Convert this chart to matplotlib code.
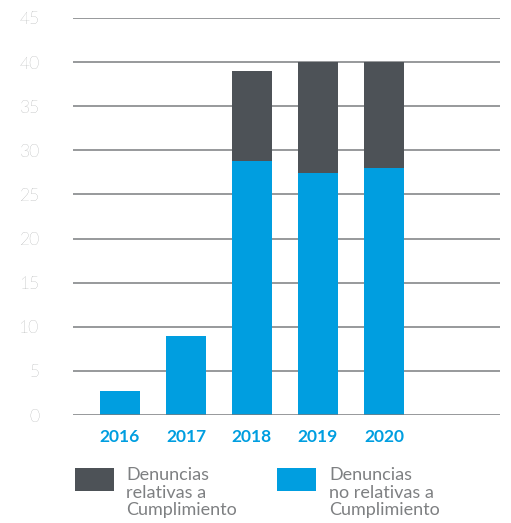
import matplotlib
matplotlib.use("Agg")
import matplotlib.pyplot as plt
from matplotlib.patches import Rectangle
import numpy as np

years = ["2016", "2017", "2018", "2019", "2020"]
no_relativas = [2.75, 9.0, 28.8, 27.4, 28.0]
relativas = [0.0, 0.0, 10.2, 12.6, 12.0]
yticks = [0, 5, 10, 15, 20, 25, 30, 35, 40, 45]
legend_labels = ["Denuncias\nrelativas a\nCumplimiento", "Denuncias\nno relativas a\nCumplimiento"]

blue = "#009EE0"
dark = "#4D5257"
grid_c = "#7A7D80"
tick_c = "#7E8082"

plt.rcParams['font.family'] = ['Lato', 'DejaVu Sans']

fig = plt.figure(figsize=(5.11, 5.23), dpi=100)
ax = fig.add_axes([73/511, 1-415/523, 427/511, 397/523])

x = np.arange(len(years))
w = 0.606
ax.bar(x, no_relativas, width=w, color=blue, zorder=2)
ax.bar(x, relativas, width=w, bottom=no_relativas, color=dark, zorder=2)

for t in yticks:
    ax.axhline(t, color=grid_c, lw=1.1, zorder=1 if t > 0 else 3)

ax.set_xlim(-0.712, 5.76)
ax.set_ylim(0, 45)
ax.set_yticks(yticks)
ax.set_yticklabels([str(t) for t in yticks], fontsize=12.5, color=tick_c, fontweight='light')
ax.set_xticks(x)
ax.set_xticklabels(years, fontsize=12.5, color=blue, fontweight='bold')
ax.tick_params(axis='both', length=0)
ax.tick_params(axis='y', pad=24)
ax.tick_params(axis='x', pad=10)
for s in ax.spines.values():
    s.set_visible(False)

# legend
W, H = 511, 523
for i, (lab, col) in enumerate(zip(legend_labels, [dark, blue])):
    px = [75, 277][i]
    fig.add_artist(Rectangle((px/W, 1-491/H), 39/W, 23/H, transform=fig.transFigure,
                             color=col, lw=0))
    tx = [126, 329][i]
    fig.text(tx/W, 1-467/H, lab, fontsize=13, color=tick_c, fontweight='normal',
             va='top', ha='left', linespacing=1.12)

fig.savefig("out.png", dpi=100)
